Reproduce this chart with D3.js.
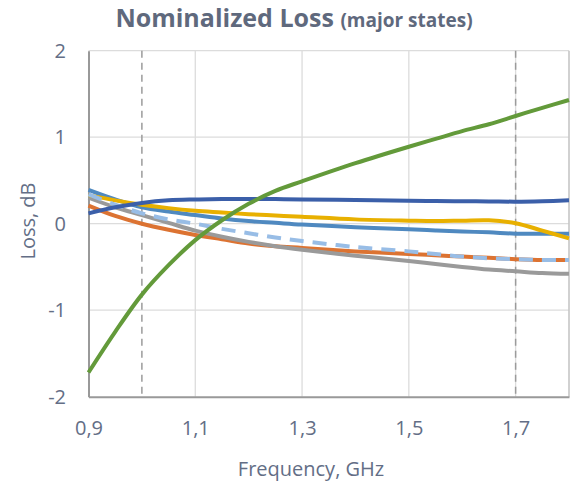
<!DOCTYPE html>
<html><head><meta charset="utf-8">
<script src="https://cdn.jsdelivr.net/npm/d3@7"></script>
<style>
html,body{margin:0;padding:0;background:#fff;}
svg{display:block;font-family:"Open Sans",sans-serif;}
</style></head>
<body><svg id="c" width="575" height="487"></svg>
<script>
const freqs = [0.9,0.95,1.0,1.05,1.1,1.15,1.2,1.25,1.3,1.4,1.5,1.55,1.6,1.65,1.7,1.75,1.8];
const greenVals    = [-1.72,-1.25,-0.82,-0.48,-0.19,0.04,0.23,0.38,0.49,0.70,0.89,0.98,1.07,1.15,1.245,1.34,1.43];
const darkBlueVals = [0.12,0.19,0.24,0.27,0.28,0.285,0.285,0.285,0.28,0.275,0.265,0.262,0.26,0.258,0.255,0.26,0.27];
const yellowVals   = [0.33,0.27,0.22,0.18,0.15,0.13,0.11,0.095,0.08,0.05,0.035,0.03,0.035,0.04,0.005,-0.08,-0.17];
const midBlueVals  = [0.39,0.28,0.19,0.14,0.10,0.06,0.03,0.01,-0.01,-0.04,-0.065,-0.078,-0.09,-0.10,-0.115,-0.115,-0.115];
const dashedVals   = [0.34,0.22,0.12,0.05,0.0,-0.06,-0.11,-0.16,-0.20,-0.27,-0.32,-0.35,-0.38,-0.40,-0.41,-0.42,-0.42];
const orangeVals   = [0.21,0.09,0.0,-0.07,-0.13,-0.18,-0.23,-0.26,-0.28,-0.32,-0.35,-0.365,-0.38,-0.395,-0.41,-0.42,-0.42];
const grayVals     = [0.30,0.19,0.10,0.01,-0.08,-0.15,-0.21,-0.26,-0.30,-0.37,-0.43,-0.465,-0.50,-0.53,-0.55,-0.57,-0.58];

const xTicks = [0.9,1.1,1.3,1.5,1.7];
const xTickLabels = ["0,9","1,1","1,3","1,5","1,7"];
const yTicks = [-2,-1,0,1,2];
const yTickLabels = ["-2","-1","0","1","2"];
const markerFreqs = [1.0,1.7];

const series = [
  {name:"midBlue", vals:midBlueVals, color:"#4f89c0", dash:null},
  {name:"orange", vals:orangeVals, color:"#dc7332", dash:null},
  {name:"gray", vals:grayVals, color:"#9a9a9a", dash:null},
  {name:"yellow", vals:yellowVals, color:"#e8b000", dash:null},
  {name:"dashed", vals:dashedVals, color:"#98bde6", dash:"14,9"},
  {name:"darkBlue", vals:darkBlueVals, color:"#3b5fa9", dash:null},
  {name:"green", vals:greenVals, color:"#639a3a", dash:null}
];

const svg = d3.select("#c");
const L=88.5, R=569, T=50.7, B=396.7;
const x = d3.scaleLinear().domain([0.9,1.8]).range([L,R]);
const y = d3.scaleLinear().domain([-2,2]).range([B,T]);
const txtCol = "#636e86";

// gridlines
svg.append("g").selectAll("line.h").data(yTicks.filter(v=>v>-2)).join("line")
  .attr("x1",L).attr("x2",R).attr("y1",d=>y(d)).attr("y2",d=>y(d))
  .attr("stroke","#dcdcdc").attr("stroke-width",1.3);
svg.append("g").selectAll("line.v").data(xTicks.filter(v=>v>0.9)).join("line")
  .attr("x1",d=>x(d)).attr("x2",d=>x(d)).attr("y1",T).attr("y2",B)
  .attr("stroke","#dcdcdc").attr("stroke-width",1.3);
// right border
svg.append("line").attr("x1",R).attr("x2",R).attr("y1",T).attr("y2",B)
  .attr("stroke","#c6c6c6").attr("stroke-width",1.6);

// dashed markers
svg.append("g").selectAll("line").data(markerFreqs).join("line")
  .attr("x1",d=>x(d)).attr("x2",d=>x(d)).attr("y1",T).attr("y2",B)
  .attr("stroke","#9b9b9b").attr("stroke-width",1.5).attr("stroke-dasharray","7,5");

// axes
const xAxis = d3.axisBottom(x).tickValues(xTicks).tickFormat((d,i)=>xTickLabels[i]).tickSize(0).tickPadding(24);
const gx = svg.append("g").attr("transform",`translate(0,${B})`).call(xAxis);
gx.select(".domain").attr("stroke","#999").attr("stroke-width",2);
gx.selectAll("text").attr("fill",txtCol).style("font-size","20px").style("font-family","'Open Sans',sans-serif");

const yAxis = d3.axisLeft(y).tickValues(yTicks).tickFormat((d,i)=>yTickLabels[i]).tickSize(0).tickPadding(22.5);
const gy = svg.append("g").attr("transform",`translate(${L},0)`).call(yAxis);
gy.select(".domain").attr("stroke","#999").attr("stroke-width",2);
gy.selectAll("text").attr("fill",txtCol).style("font-size","20px").style("font-family","'Open Sans',sans-serif");

// lines
const line = d3.line().x((d,i)=>x(freqs[i])).y(d=>y(d)).curve(d3.curveCatmullRom.alpha(0.5));
svg.append("g").selectAll("path").data(series).join("path")
  .attr("d",d=>line(d.vals)).attr("fill","none")
  .attr("stroke",d=>d.color).attr("stroke-width",4)
  .attr("stroke-dasharray",d=>d.dash);

// titles
const t = svg.append("text").attr("x",294).attr("y",27).attr("text-anchor","middle")
  .attr("fill","#5f697d").attr("font-weight","bold");
t.append("tspan").style("font-size","25px").text("Nominalized Loss ");
t.append("tspan").style("font-size","19px").text("(major states)");

svg.append("text").attr("x",311).attr("y",476).attr("text-anchor","middle")
  .attr("fill",txtCol).style("font-size","20px").text("Frequency, GHz");
svg.append("text").attr("transform","translate(35,221) rotate(-90)").attr("text-anchor","middle")
  .attr("fill",txtCol).style("font-size","20px").text("Loss, dB");
</script></body></html>
